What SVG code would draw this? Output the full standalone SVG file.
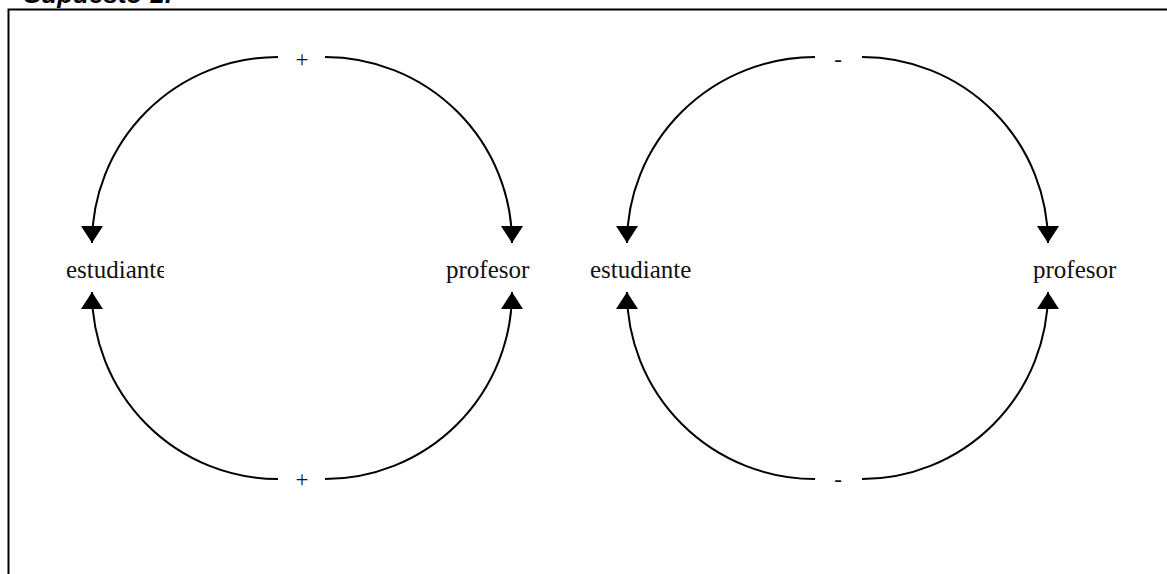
<svg xmlns="http://www.w3.org/2000/svg" width="1167" height="574" viewBox="0 0 1167 574">
<style>
.arc{fill:none;stroke:#000;stroke-width:2}
.lbl{font-family:"Liberation Serif",serif;font-size:25px;fill:#111}
.sign{font-family:"Liberation Serif",serif;font-size:23px;fill:#111}
</style>
<defs>
<marker id="ah" markerWidth="20" markerHeight="22" refX="17" refY="11" orient="auto" markerUnits="userSpaceOnUse" viewBox="0 0 17 22">
<path d="M0,0 L17,11 L0,22 Z" fill="#000"/>
</marker>
<clipPath id="clipL"><rect x="0" y="250" width="164" height="40"/></clipPath>
</defs>
<rect x="0" y="0" width="1167" height="574" fill="#fff"/>
<path d="M8.5,574 V9.5 H1167" fill="none" stroke="#000" stroke-width="2"/>
<text x="24" y="3" font-family="Liberation Sans,sans-serif" font-size="26" font-style="italic" font-weight="bold">Supuesto 1:</text>
<g id="connectors">
<path class="arc" d="M278,57 A186,186 0 0 0 92,243" marker-end="url(#ah)"/>
<path class="arc" d="M325,57 A187,186 0 0 1 512,243" marker-end="url(#ah)"/>
<path class="arc" d="M278,479 A186,187 0 0 1 92,292" marker-end="url(#ah)"/>
<path class="arc" d="M325,479 A187,187 0 0 0 512,292" marker-end="url(#ah)"/>
<path class="arc" d="M815,57 A188,186 0 0 0 627,243" marker-end="url(#ah)"/>
<path class="arc" d="M862,57 A186,186 0 0 1 1048,243" marker-end="url(#ah)"/>
<path class="arc" d="M815,479 A188,187 0 0 1 627,292" marker-end="url(#ah)"/>
<path class="arc" d="M862,479 A186,187 0 0 0 1048,292" marker-end="url(#ah)"/>
</g>
<g id="sign-top-left"><text class="sign" x="302" y="67" text-anchor="middle">+</text></g>
<g id="sign-bottom-left"><text class="sign" x="302" y="487" text-anchor="middle">+</text></g>
<g id="sign-top-right"><text class="sign" x="838" y="67" text-anchor="middle">-</text></g>
<g id="sign-bottom-right"><text class="sign" x="838" y="487" text-anchor="middle">-</text></g>
<g id="estudiante-left"><text class="lbl" x="66" y="278" clip-path="url(#clipL)">estudiante</text></g>
<g id="profesor-left"><text class="lbl" x="446" y="278">profesor</text></g>
<g id="estudiante-right"><text class="lbl" x="590" y="278">estudiante</text></g>
<g id="profesor-right"><text class="lbl" x="1033" y="278">profesor</text></g>
</svg>
